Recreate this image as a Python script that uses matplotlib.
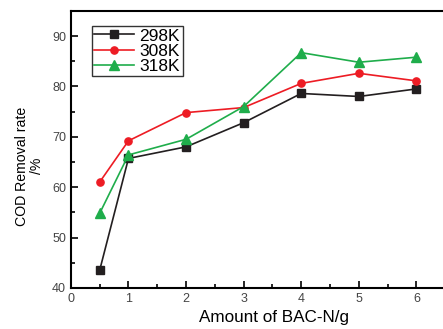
import matplotlib
matplotlib.use("Agg")
import matplotlib.pyplot as plt
from matplotlib.ticker import MultipleLocator

plt.rcParams['font.family'] = ['Liberation Sans', 'DejaVu Sans']

amount = [0.5, 1, 2, 3, 4, 5, 6]
cod_298 = [43.5, 65.7, 68.0, 72.8, 78.6, 78.0, 79.5]
cod_308 = [61.0, 69.2, 74.8, 75.8, 80.6, 82.6, 81.1]
cod_318 = [54.8, 66.4, 69.5, 76.0, 86.7, 84.8, 85.8]

fig = plt.figure(figsize=(4.43, 3.29), dpi=100)
ax = fig.add_axes([0.160, 0.125, 0.845, 0.842])

ax.plot(amount, cod_298, color='#231f20', marker='s', markersize=5.2, lw=1.2, label='298K')
ax.plot(amount, cod_308, color='#ed1c24', marker='o', markersize=5.2, lw=1.2, label='308K')
ax.plot(amount, cod_318, color='#1fad4b', marker='^', markersize=6.8, lw=1.2, label='318K')

ax.set_xlim(0, 6.5)
ax.set_ylim(40, 95)
ax.xaxis.set_major_locator(MultipleLocator(1))
ax.xaxis.set_minor_locator(MultipleLocator(0.5))
ax.yaxis.set_major_locator(MultipleLocator(10))
ax.yaxis.set_minor_locator(MultipleLocator(5))
ax.tick_params(which='both', direction='in', width=1.2, labelsize=9, labelcolor='#444444')
ax.tick_params(which='major', length=5)
ax.tick_params(which='minor', length=3)
ax.set_yticks([40, 50, 60, 70, 80, 90])
for s in ax.spines.values():
    s.set_linewidth(1.5)

ax.set_xlabel('Amount of BAC-N/g', fontsize=12.3)
ax.xaxis.set_label_coords(0.543, -0.08)
ax.set_ylabel('COD Removal rate\n/%', fontsize=10.2, linespacing=1.1)
ax.yaxis.set_label_coords(-0.072, 0.44)

leg = ax.legend(loc='upper left', bbox_to_anchor=(0.056, 0.946), fontsize=12.5, frameon=True,
                fancybox=False, edgecolor='black', handlelength=2.3, borderpad=0.15,
                labelspacing=0.0, handletextpad=0.3, borderaxespad=0)
leg.get_frame().set_linewidth(1.0)

fig.savefig('out.png', dpi=100)
